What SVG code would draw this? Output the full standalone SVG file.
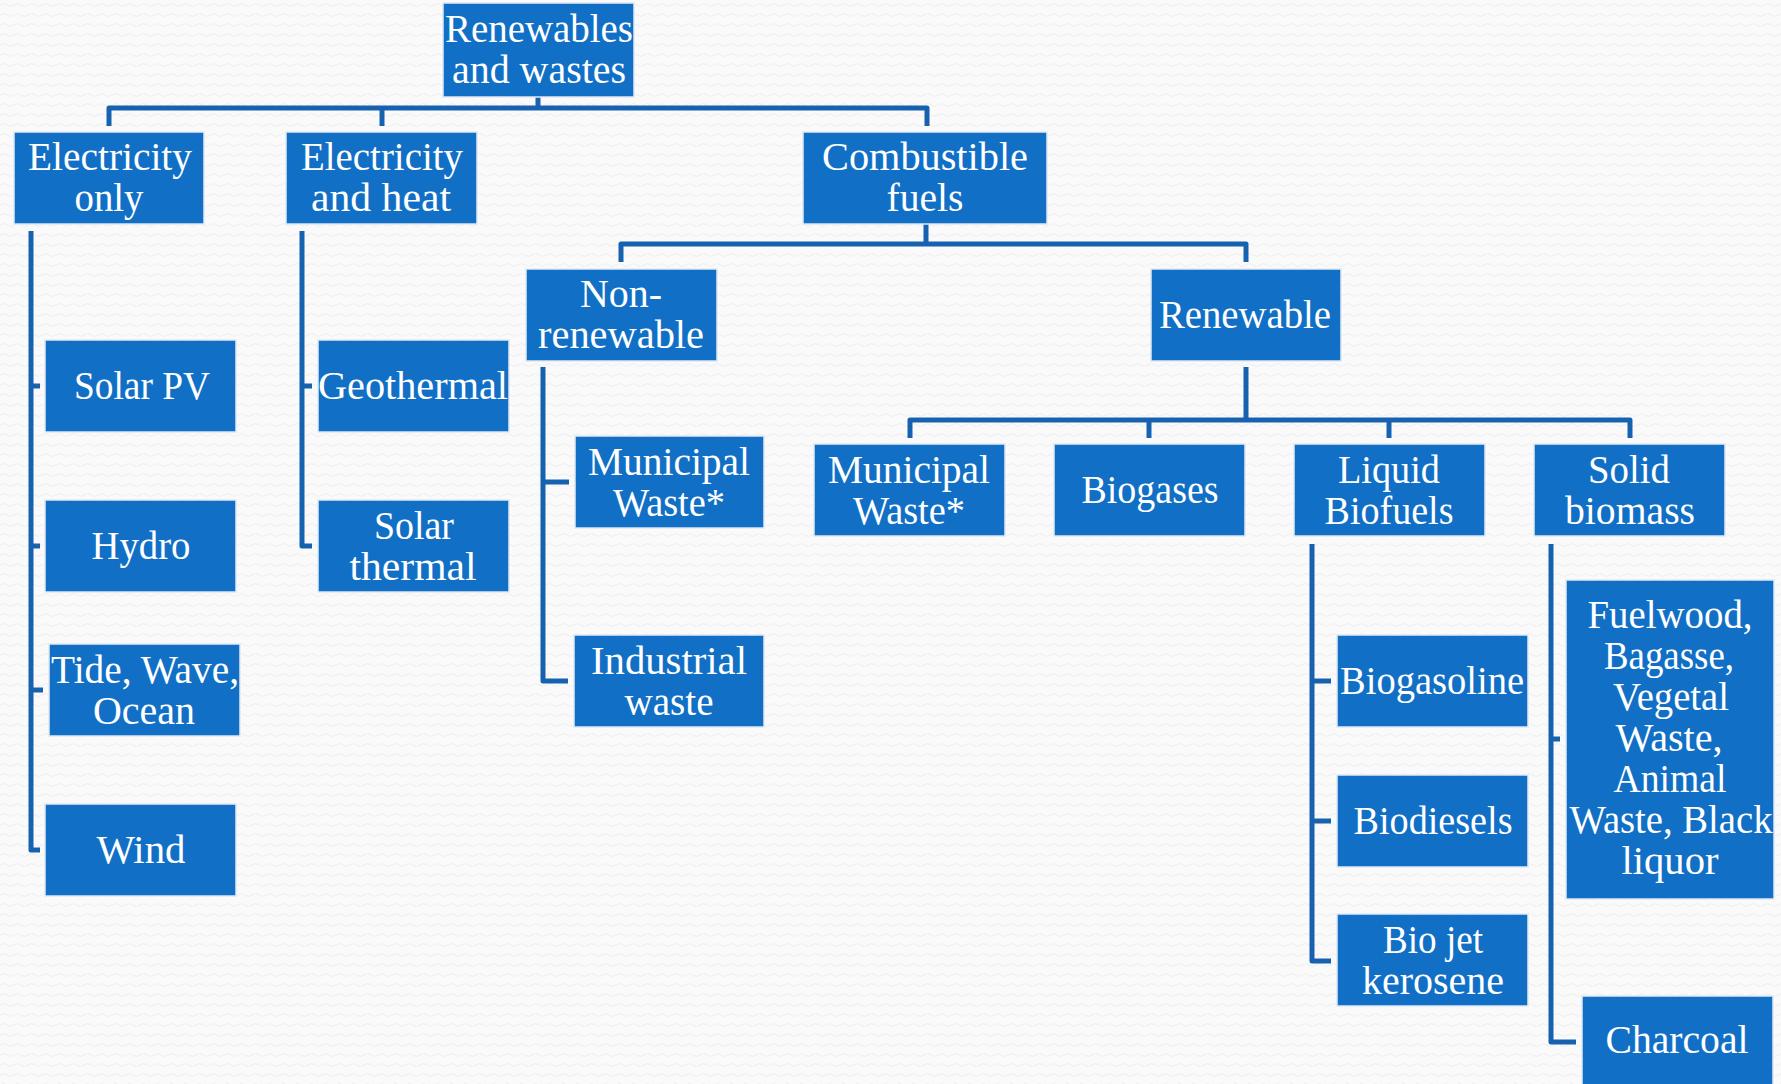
<svg xmlns="http://www.w3.org/2000/svg" width="1781" height="1084" viewBox="0 0 1781 1084">
<defs>
<pattern id="bg" width="14" height="10" patternUnits="userSpaceOnUse">
<rect width="14" height="10" fill="#fafafa"/>
<path d="M0 5 Q3.5 2 7 5 T14 5" fill="none" stroke="#eeeeee" stroke-width="1"/>
</pattern>
<style>
.box{fill:#1170c6;stroke:#dfe9f4;stroke-width:1.5}
.t{font-family:"Liberation Serif","DejaVu Serif",serif;font-size:39px;fill:#ffffff;text-anchor:middle}
.c{fill:none;stroke:#1762b0;stroke-width:5;stroke-linejoin:round}
</style>
</defs>
<rect width="1781" height="1084" fill="url(#bg)"/>
<g id="connectors">
<path class="c" d="M538 97 V108"/>
<path class="c" d="M109 126 V108 H927 V126"/>
<path class="c" d="M382 108 V126"/>
<path class="c" d="M31 231 V850 H40"/>
<path class="c" d="M31 386 H40 M31 546 H40 M31 690 H43"/>
<path class="c" d="M302 231 V546 H312"/>
<path class="c" d="M302 386 H312"/>
<path class="c" d="M926 224 V244"/>
<path class="c" d="M621 262 V244 H1246 V262"/>
<path class="c" d="M543 367 V681 H568"/>
<path class="c" d="M543 482 H569"/>
<path class="c" d="M1246 367 V420"/>
<path class="c" d="M910 438 V420 H1630 V438"/>
<path class="c" d="M1149 420 V438 M1389 420 V438"/>
<path class="c" d="M1312 544 V961 H1331"/>
<path class="c" d="M1312 681 H1331 M1312 821 H1331"/>
<path class="c" d="M1551 544 V1042 H1576"/>
<path class="c" d="M1551 739 H1560"/>
</g>
<g id="root"><rect class="box" x="443" y="3" width="191" height="94"/>
<text class="t" x="539" y="42" textLength="188" lengthAdjust="spacingAndGlyphs">Renewables</text>
<text class="t" x="539" y="83" textLength="174" lengthAdjust="spacingAndGlyphs">and wastes</text></g>
<g id="elec-only"><rect class="box" x="14" y="132" width="190" height="92"/>
<text class="t" x="110" y="170" textLength="164" lengthAdjust="spacingAndGlyphs">Electricity</text>
<text class="t" x="109" y="211" textLength="69" lengthAdjust="spacingAndGlyphs">only</text></g>
<g id="elec-heat"><rect class="box" x="286" y="132" width="191" height="92"/>
<text class="t" x="382" y="170" textLength="162" lengthAdjust="spacingAndGlyphs">Electricity</text>
<text class="t" x="381" y="211" textLength="140" lengthAdjust="spacingAndGlyphs">and heat</text></g>
<g id="combustible"><rect class="box" x="803" y="132" width="244" height="92"/>
<text class="t" x="925" y="170" textLength="206" lengthAdjust="spacingAndGlyphs">Combustible</text>
<text class="t" x="925" y="211" textLength="77" lengthAdjust="spacingAndGlyphs">fuels</text></g>
<g id="non-renewable"><rect class="box" x="526" y="269" width="191" height="92"/>
<text class="t" x="621" y="307" textLength="82" lengthAdjust="spacingAndGlyphs">Non-</text>
<text class="t" x="621" y="348" textLength="166" lengthAdjust="spacingAndGlyphs">renewable</text></g>
<g id="renewable"><rect class="box" x="1151" y="269" width="190" height="92"/>
<text class="t" x="1245" y="328" textLength="172" lengthAdjust="spacingAndGlyphs">Renewable</text></g>
<g id="solar-pv"><rect class="box" x="45" y="340" width="191" height="92"/>
<text class="t" x="142" y="399" textLength="136" lengthAdjust="spacingAndGlyphs">Solar PV</text></g>
<g id="hydro"><rect class="box" x="45" y="500" width="191" height="92"/>
<text class="t" x="141" y="559" textLength="99" lengthAdjust="spacingAndGlyphs">Hydro</text></g>
<g id="tide"><rect class="box" x="49" y="644" width="191" height="92"/>
<text class="t" x="145" y="683" textLength="188" lengthAdjust="spacingAndGlyphs">Tide, Wave,</text>
<text class="t" x="144" y="724" textLength="102" lengthAdjust="spacingAndGlyphs">Ocean</text></g>
<g id="wind"><rect class="box" x="45" y="804" width="191" height="92"/>
<text class="t" x="141" y="863" textLength="89" lengthAdjust="spacingAndGlyphs">Wind</text></g>
<g id="geothermal"><rect class="box" x="318" y="340" width="191" height="92"/>
<text class="t" x="413" y="399" textLength="190" lengthAdjust="spacingAndGlyphs">Geothermal</text></g>
<g id="solar-thermal"><rect class="box" x="318" y="500" width="191" height="92"/>
<text class="t" x="414" y="539" textLength="80" lengthAdjust="spacingAndGlyphs">Solar</text>
<text class="t" x="413" y="580" textLength="127" lengthAdjust="spacingAndGlyphs">thermal</text></g>
<g id="municipal-nonren"><rect class="box" x="575" y="436" width="189" height="92"/>
<text class="t" x="669" y="475" textLength="162" lengthAdjust="spacingAndGlyphs">Municipal</text>
<text class="t" x="669" y="516" textLength="112" lengthAdjust="spacingAndGlyphs">Waste*</text></g>
<g id="industrial"><rect class="box" x="574" y="635" width="190" height="92"/>
<text class="t" x="669" y="674" textLength="156" lengthAdjust="spacingAndGlyphs">Industrial</text>
<text class="t" x="669" y="715" textLength="89" lengthAdjust="spacingAndGlyphs">waste</text></g>
<g id="municipal-ren"><rect class="box" x="814" y="444" width="191" height="92"/>
<text class="t" x="909" y="483" textLength="162" lengthAdjust="spacingAndGlyphs">Municipal</text>
<text class="t" x="909" y="524" textLength="112" lengthAdjust="spacingAndGlyphs">Waste*</text></g>
<g id="biogases"><rect class="box" x="1054" y="444" width="191" height="92"/>
<text class="t" x="1150" y="503" textLength="137" lengthAdjust="spacingAndGlyphs">Biogases</text></g>
<g id="liquid"><rect class="box" x="1294" y="444" width="191" height="92"/>
<text class="t" x="1389" y="483" textLength="102" lengthAdjust="spacingAndGlyphs">Liquid</text>
<text class="t" x="1389" y="524" textLength="129" lengthAdjust="spacingAndGlyphs">Biofuels</text></g>
<g id="solid"><rect class="box" x="1534" y="444" width="191" height="92"/>
<text class="t" x="1629" y="483" textLength="82" lengthAdjust="spacingAndGlyphs">Solid</text>
<text class="t" x="1630" y="524" textLength="130" lengthAdjust="spacingAndGlyphs">biomass</text></g>
<g id="biogasoline"><rect class="box" x="1337" y="635" width="191" height="92"/>
<text class="t" x="1432" y="694" textLength="184" lengthAdjust="spacingAndGlyphs">Biogasoline</text></g>
<g id="biodiesels"><rect class="box" x="1337" y="775" width="191" height="92"/>
<text class="t" x="1433" y="834" textLength="159" lengthAdjust="spacingAndGlyphs">Biodiesels</text></g>
<g id="biojet"><rect class="box" x="1337" y="914" width="191" height="92"/>
<text class="t" x="1433" y="953" textLength="100" lengthAdjust="spacingAndGlyphs">Bio jet</text>
<text class="t" x="1433" y="994" textLength="142" lengthAdjust="spacingAndGlyphs">kerosene</text></g>
<g id="fuelwood"><rect class="box" x="1566" y="580" width="208" height="319"/>
<text class="t" x="1670" y="628" textLength="165" lengthAdjust="spacingAndGlyphs">Fuelwood,</text>
<text class="t" x="1669" y="669" textLength="130" lengthAdjust="spacingAndGlyphs">Bagasse,</text>
<text class="t" x="1671" y="710" textLength="116" lengthAdjust="spacingAndGlyphs">Vegetal</text>
<text class="t" x="1669" y="751" textLength="107" lengthAdjust="spacingAndGlyphs">Waste,</text>
<text class="t" x="1670" y="792" textLength="113" lengthAdjust="spacingAndGlyphs">Animal</text>
<text class="t" x="1671" y="833" textLength="203" lengthAdjust="spacingAndGlyphs">Waste, Black</text>
<text class="t" x="1670" y="874" textLength="97" lengthAdjust="spacingAndGlyphs">liquor</text></g>
<g id="charcoal"><rect class="box" x="1582" y="996" width="191" height="94"/>
<text class="t" x="1677" y="1053" textLength="143" lengthAdjust="spacingAndGlyphs">Charcoal</text></g>
</svg>
